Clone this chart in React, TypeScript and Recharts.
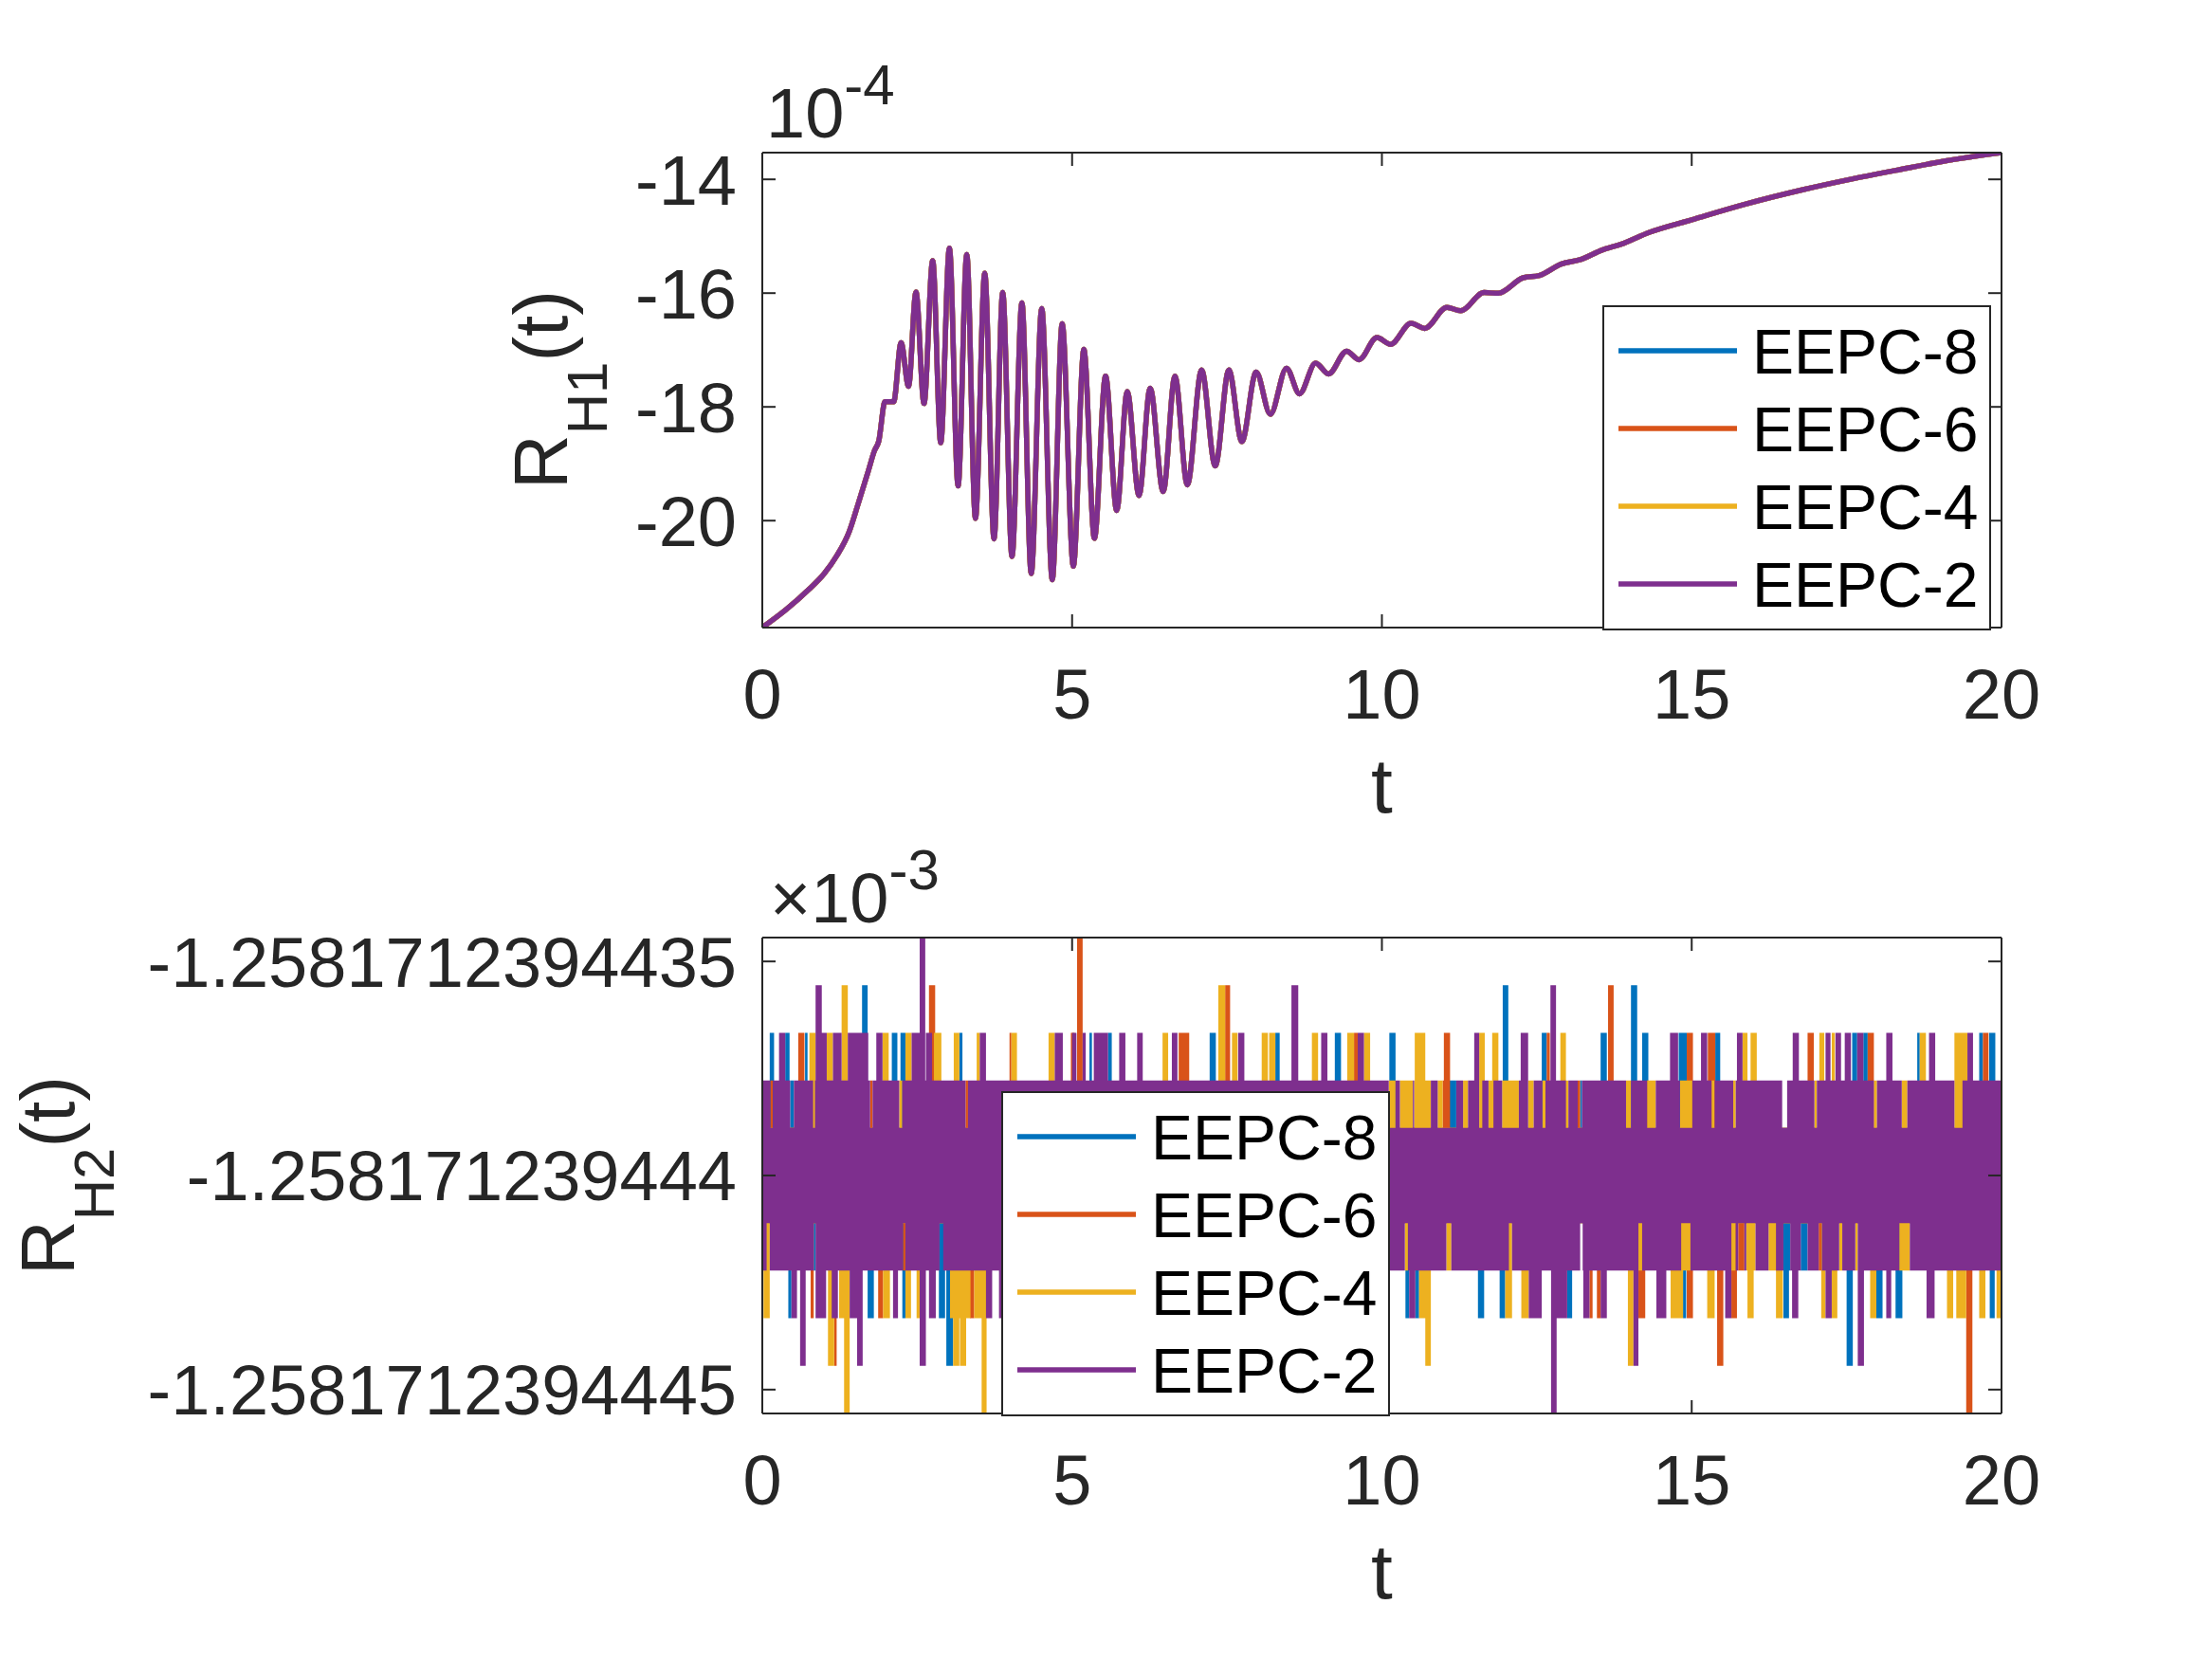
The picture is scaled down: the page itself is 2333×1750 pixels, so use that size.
import React from 'react';
import { ComposedChart, Line, Area, XAxis, YAxis } from 'recharts';

const FONT = '"Liberation Sans", Arial, Helvetica, sans-serif';
const INK = '#262626';

const seriesNames = ['EEPC-8', 'EEPC-6', 'EEPC-4', 'EEPC-2'];
const seriesColors = ['#0072BD', '#D95319', '#EDB120', '#7E2F8E'];

const tTicks = [0, 5, 10, 15, 20];

// R_H1(t), x10^-4 : the four schemes lie on top of each other
const rh1Time = [
  0, 0.4, 0.75, 1.0, 1.2, 1.4, 1.54, 1.71, 1.81, 1.88, 1.98, 2.12,
  2.24, 2.36, 2.48, 2.61, 2.75, 2.88, 3.02, 3.16, 3.3, 3.44,
  3.59, 3.74, 3.88, 4.03, 4.19, 4.34, 4.51, 4.68, 4.84, 5.02,
  5.19, 5.36, 5.54, 5.72, 5.89, 6.08, 6.26, 6.47, 6.66, 6.86,
  7.09, 7.31, 7.53, 7.74, 7.97, 8.2, 8.46, 8.67, 8.93, 9.14,
  9.43, 9.63, 9.92, 10.14,
  10.47, 10.69, 11.05, 11.27, 11.65, 11.88, 12.28, 12.54, 12.89, 13.2,
  13.56, 13.86, 14.32, 15.0, 15.85, 16.8, 17.6, 18.3, 19.07, 20.0,
];
const rh1Value = [
  -21.88, -21.55, -21.21, -20.93, -20.62, -20.2, -19.73, -19.13, -18.77, -18.6, -17.91, -17.91,
  -16.87, -17.64, -15.98, -17.94, -15.43, -18.63, -15.21, -19.39, -15.32, -19.96,
  -15.65, -20.32, -15.99, -20.63, -16.17, -20.93, -16.27, -21.04, -16.54, -20.8,
  -16.99, -20.31, -17.46, -19.82, -17.73, -19.56, -17.67, -19.49, -17.46, -19.37,
  -17.35, -19.04, -17.35, -18.61, -17.39, -18.13, -17.32, -17.77, -17.23, -17.42,
  -17.02, -17.17, -16.78, -16.9,
  -16.53, -16.62, -16.25, -16.31, -15.99, -16.0, -15.73, -15.69, -15.49, -15.41,
  -15.24, -15.14, -14.93, -14.71, -14.44, -14.18, -13.99, -13.84, -13.68, -13.53,
];
const rh1Domain = [-21.88, -13.53];
const rh1Ticks = [-20, -18, -16, -14];

// R_H2(t), x10^-3 : the values jump between round-off levels (index 0 = level -5 ... 10 = level +5)
const rh2Levels = [
  -1.2581712394445556, -1.2581712394444444, -1.2581712394443333, -1.2581712394442222,
  -1.2581712394441111, -1.258171239444, -1.2581712394438889, -1.2581712394437778,
  -1.2581712394436667, -1.2581712394435556, -1.2581712394434444,
];
const rh2Ticks = [-1.2581712394445, -1.258171239444, -1.2581712394435];
const rh2TickLabels = ['-1.2581712394445', '-1.258171239444', '-1.2581712394435'];

// [t start, t end, level] where a series leaves its usual band
const blueUp = [
  [0.12, 0.19, 3], [0.37, 0.44, 3], [0.45, 0.51, 2], [0.69, 0.73, 3], [1.61, 1.7, 4],
  [2.09, 2.18, 3], [2.23, 2.31, 3], [3.18, 3.23, 3], [5.28, 5.32, 3], [5.58, 5.64, 3],
  [7.22, 7.32, 3], [8.28, 8.35, 3], [9.24, 9.34, 3], [10.12, 10.22, 3], [11.08, 11.2, 2],
  [11.95, 12.04, 4], [12.58, 12.66, 3], [13.2, 13.23, 2], [13.53, 13.63, 3], [14.02, 14.12, 4],
  [14.2, 14.3, 3], [14.79, 14.92, 3], [14.92, 14.96, 2], [15.38, 15.46, 3], [17.59, 17.67, 3],
  [17.77, 17.84, 3], [18.64, 18.68, 3], [19.64, 19.7, 3], [19.8, 19.9, 3],
];
const blueDown = [
  [0.42, 0.47, -3], [0.83, 0.86, -2], [1.7, 1.8, -3], [2.26, 2.31, -3], [2.85, 2.95, -3],
  [2.86, 2.92, -2], [2.97, 3.08, -4], [10.38, 10.44, -3], [10.54, 10.6, -3], [11.55, 11.65, -3],
  [11.9, 11.99, -3], [12.99, 13.07, -3], [14.86, 14.91, -3], [16.48, 16.57, -3], [16.48, 16.59, -2],
  [16.76, 16.87, -2], [17.5, 17.6, -4], [17.98, 18.08, -3], [18.29, 18.4, -3], [19.81, 19.89, -3],
];
const orangeUp = [
  [0.13, 0.17, 2], [0.58, 0.68, 3], [1.74, 1.78, 2], [2.69, 2.79, 4], [3.28, 3.32, 2],
  [3.99, 4.02, 3], [4.98, 5.04, 3], [5.08, 5.17, 5], [6.72, 6.89, 3], [7.47, 7.55, 4],
  [9.55, 9.61, 3], [10.98, 11.06, 2], [11.0, 11.1, 3], [12.66, 12.71, 3], [13.16, 13.2, 2],
  [13.65, 13.74, 4], [14.28, 14.3, 2], [14.92, 15.02, 3], [15.26, 15.38, 3], [16.87, 16.97, 3],
  [17.84, 17.94, 3], [19.7, 19.79, 3],
];
const orangeDown = [
  [0.78, 0.83, -3], [1.16, 1.2, -4], [1.87, 1.95, -3], [2.27, 2.31, -2], [3.35, 3.42, -3],
  [13.35, 13.4, -3], [13.47, 13.53, -3], [14.14, 14.25, -3], [14.92, 15.02, -3], [15.41, 15.51, -4],
  [15.64, 15.73, -3], [15.75, 15.85, -2], [17.05, 17.1, -2], [19.43, 19.53, -5],
];
const yellowUp = [
  [0.76, 0.86, 3], [0.82, 0.85, 2], [1.04, 1.14, 3], [1.28, 1.38, 4], [1.94, 2.04, 3],
  [2.21, 2.26, 2], [2.31, 2.41, 3], [2.77, 2.89, 3], [3.09, 3.18, 3], [3.46, 3.51, 3],
  [4.02, 4.11, 3], [4.62, 4.72, 3], [6.46, 6.55, 3], [7.36, 7.47, 4], [7.58, 7.67, 3],
  [8.06, 8.16, 3], [8.18, 8.28, 3], [8.87, 8.97, 3], [9.44, 9.55, 3], [9.71, 9.81, 3],
  [10.11, 10.22, 2], [10.29, 10.5, 2], [10.52, 10.79, 2], [10.53, 10.7, 3], [10.9, 10.98, 2],
  [11.31, 11.39, 2], [11.57, 11.66, 3], [11.72, 11.8, 2], [11.78, 11.88, 3], [11.94, 12.21, 2],
  [12.36, 12.45, 2], [12.59, 12.64, 2], [12.88, 12.97, 3], [12.97, 13.01, 2], [13.94, 14.02, 2],
  [14.28, 14.42, 2], [14.81, 15.01, 2], [15.32, 15.37, 2], [15.67, 15.71, 2], [15.82, 15.9, 3],
  [15.95, 16.05, 3], [16.98, 17.02, 2], [17.06, 17.14, 3], [17.26, 17.31, 3], [17.94, 17.99, 2],
  [18.39, 18.48, 2], [18.68, 18.78, 3], [19.24, 19.45, 3],
];
const yellowDown = [
  [0.02, 0.12, -3], [1.06, 1.16, -4], [1.24, 1.39, -3], [1.32, 1.41, -5], [1.44, 1.48, -2],
  [1.95, 2.06, -3], [2.31, 2.4, -3], [2.49, 2.54, -3], [2.71, 2.75, -2], [3.03, 3.36, -3],
  [3.08, 3.18, -4], [3.19, 3.29, -4], [3.42, 3.61, -3], [3.54, 3.62, -5], [10.37, 10.42, -2],
  [10.6, 10.7, -3], [10.7, 10.79, -4], [11.04, 11.12, -2], [11.99, 12.1, -3], [12.25, 12.37, -3],
  [13.97, 14.06, -4], [14.14, 14.2, -2], [14.66, 14.86, -3], [14.83, 14.98, -2], [15.25, 15.37, -3],
  [15.64, 15.71, -2], [15.88, 16.03, -2], [15.9, 16.0, -3], [16.24, 16.36, -2], [16.36, 16.47, -3],
  [17.09, 17.16, -3], [17.26, 17.35, -3], [17.38, 17.43, -2], [17.64, 17.68, -2], [17.88, 17.98, -3],
  [18.35, 18.52, -2], [19.12, 19.22, -3], [19.27, 19.43, -3], [19.64, 19.74, -3], [19.92, 20.0, -3],
];
const purpleUp = [
  [0.27, 0.37, 3], [0.86, 0.96, 4], [0.96, 1.04, 3], [1.14, 1.28, 3], [1.38, 1.71, 3],
  [1.84, 1.94, 3], [2.41, 2.54, 3], [2.54, 2.63, 5], [2.64, 2.74, 3], [3.51, 3.61, 3],
  [4.72, 4.85, 3], [5.0, 5.07, 3], [5.17, 5.22, 3], [5.35, 5.58, 3], [5.76, 5.86, 3],
  [6.05, 6.14, 3], [6.61, 6.7, 3], [7.68, 7.78, 3], [8.54, 8.65, 4], [9.02, 9.12, 3],
  [9.61, 9.71, 3], [11.49, 11.57, 3], [12.24, 12.36, 3], [12.72, 12.81, 4], [14.65, 14.78, 3],
  [15.15, 15.25, 3], [15.73, 15.82, 3], [16.63, 16.73, 3], [17.16, 17.24, 3], [17.32, 17.41, 3],
  [17.47, 17.57, 3], [17.67, 17.77, 3], [18.14, 18.24, 3], [18.83, 18.93, 3], [19.45, 19.54, 3],
];
const purpleDown = [
  [0.47, 0.56, -3], [0.61, 0.7, -4], [0.86, 1.03, -3], [1.12, 1.22, -3], [1.41, 1.53, -3],
  [1.53, 1.62, -4], [2.11, 2.19, -3], [2.54, 2.64, -4], [2.69, 2.8, -3], [3.61, 3.71, -3],
  [3.82, 3.86, -3], [10.44, 10.54, -3], [12.37, 12.58, -3], [12.73, 12.82, -5], [12.82, 12.99, -3],
  [13.25, 13.35, -3], [13.53, 13.63, -3], [14.06, 14.14, -4], [14.43, 14.59, -3], [15.54, 15.64, -3],
  [16.62, 16.72, -3], [17.16, 17.26, -3], [17.68, 17.78, -4], [18.14, 18.22, -3], [18.79, 18.92, -3],
];
// places where the purple band does not reach its usual edge
const purpleTopGaps = [
  [0.13, 0.17, 1], [0.45, 0.51, 1], [0.82, 0.85, 1], [1.74, 1.78, 1], [2.21, 2.26, 1],
  [3.28, 3.32, 1], [10.11, 10.22, 1], [10.29, 10.5, 1], [10.52, 10.79, 1], [10.9, 11.2, 1],
  [11.31, 11.39, 1], [11.57, 11.62, 1], [11.72, 11.8, 1], [11.94, 12.21, 1], [12.36, 12.45, 1],
  [12.59, 12.64, 1], [12.97, 13.01, 1], [13.16, 13.23, 1], [13.94, 14.02, 1], [14.28, 14.42, 1],
  [14.81, 15.01, 1], [15.32, 15.37, 1], [15.67, 15.71, 1], [16.46, 16.54, 1], [16.98, 17.02, 1],
  [17.94, 17.99, 1], [18.39, 18.48, 1], [19.24, 19.37, 1],
];
const purpleBottomGaps = [
  [0.07, 0.12, -1], [0.83, 0.86, -1], [1.44, 1.48, -1], [2.27, 2.31, -1], [2.71, 2.75, -1],
  [2.86, 2.92, -1], [10.37, 10.42, -1], [11.04, 11.12, -1], [12.05, 12.1, -1], [13.2, 13.24, -1],
  [14.14, 14.2, -1], [14.83, 14.98, -1], [15.64, 15.71, -1], [15.75, 15.85, -1], [15.88, 16.03, -1],
  [16.24, 16.36, -1], [16.48, 16.59, -1], [16.76, 16.87, -1], [17.05, 17.1, -1], [17.38, 17.43, -1],
  [17.64, 17.68, -1], [18.35, 18.52, -1],
];

const rh2Series = [
  { key: 's0', up: blueUp, down: blueDown, topGaps: [], bottomGaps: [], top: 1, bottom: -1 },
  { key: 's1', up: orangeUp, down: orangeDown, topGaps: [], bottomGaps: [], top: 1, bottom: -1 },
  { key: 's2', up: yellowUp, down: yellowDown, topGaps: [], bottomGaps: [], top: 1, bottom: -1 },
  { key: 's3', up: purpleUp, down: purpleDown, topGaps: purpleTopGaps, bottomGaps: purpleBottomGaps, top: 2, bottom: -2 },
];

const rh1Rows = rh1Time.map((t, i) => ({ t, v: rh1Value[i] }));

function envelope(s, tm) {
  let hi = s.top;
  let lo = s.bottom;
  for (const [a, b, k] of s.topGaps) if (tm >= a && tm < b) hi = k;
  for (const [a, b, k] of s.bottomGaps) if (tm >= a && tm < b) lo = k;
  for (const [a, b, k] of s.up) if (tm >= a && tm < b) hi = Math.max(hi, k);
  for (const [a, b, k] of s.down) if (tm >= a && tm < b) lo = Math.min(lo, k);
  return [rh2Levels[lo + 5], rh2Levels[hi + 5]];
}

const cuts = Array.from(
  new Set([0, 20, ...rh2Series.flatMap((s) => [...s.up, ...s.down, ...s.topGaps, ...s.bottomGaps].flatMap((d) => [d[0], d[1]]))])
).sort((a, b) => a - b);

const rh2Rows = cuts.map((t, i) => {
  const tm = i < cuts.length - 1 ? (t + cuts[i + 1]) / 2 : t - 0.001;
  const row = { t };
  rh2Series.forEach((s) => {
    row[s.key] = envelope(s, tm);
  });
  return row;
});

const W = 2333;
const PANEL_H = 875;
const PLOT_L = 804;
const FS_TICK = 74;

const axisStyle = { stroke: INK, strokeWidth: 2 };
const noTick = () => <g />;

const xTick = (baseline) => (props) => (
  <text x={props.x} y={baseline} textAnchor="middle" fontSize={FS_TICK} fontFamily={FONT} fill={INK}>
    {props.payload.value}
  </text>
);

const yTick = (format) => (props) => (
  <text x={PLOT_L - 27} y={props.y + 0.358 * FS_TICK} textAnchor="end" fontSize={FS_TICK} fontFamily={FONT} fill={INK}>
    {format(props.payload.value)}
  </text>
);

const rh2Format = (v) => {
  let best = 0;
  rh2Ticks.forEach((tk, i) => {
    if (Math.abs(tk - v) < Math.abs(rh2Ticks[best] - v)) best = i;
  });
  return rh2TickLabels[best];
};

const yTitle = (x, y, sub) => () => (
  <text transform={`rotate(-90, ${x}, ${y})`} x={x} y={y} textAnchor="middle" fontSize={80} fontFamily={FONT} fill={INK}>
    R<tspan fontSize={60} dy={42}>{sub}</tspan>
    <tspan dy={-42}>(t)</tspan>
  </text>
);

const xTitle = (y) => () => (
  <text x={1457.5} y={y} textAnchor="middle" fontSize={82} fontFamily={FONT} fill={INK}>
    t
  </text>
);

const exponent = (x, y, prefix, power) => () => (
  <text x={x} y={y} fontSize={FS_TICK} fontFamily={FONT} fill={INK}>
    {prefix}10<tspan fontSize={60} dy={-35}>{power}</tspan>
  </text>
);

function LegendBox({ left, top }) {
  return (
    <svg style={{ position: 'absolute', left, top }} width={410} height={343}>
      <rect x={1} y={1} width={408} height={341} fill="#ffffff" stroke={INK} strokeWidth={2} />
      {seriesNames.map((name, i) => {
        const cy = 48 + i * 82;
        return (
          <g key={name}>
            <line x1={17} x2={142} y1={cy} y2={cy} stroke={seriesColors[i]} strokeWidth={5.5} />
            <text x={158} y={cy + 24} fontSize={66} fontFamily={FONT} fill="#000000">
              {name}
            </text>
          </g>
        );
      })}
    </svg>
  );
}

function TopPanel() {
  return (
    <ComposedChart width={W} height={PANEL_H} data={rh1Rows} margin={{ top: 151, right: 212, bottom: 203, left: 704 }}>
      <XAxis
        dataKey="t" type="number" domain={[0, 20]} ticks={tTicks} allowDataOverflow height={10}
        tickSize={-14} axisLine={axisStyle} tickLine={axisStyle} tick={xTick(758)}
        label={{ content: xTitle(857) }}
      />
      <XAxis
        xAxisId="top" orientation="top" dataKey="t" type="number" domain={[0, 20]} ticks={tTicks}
        allowDataOverflow height={10} tickSize={-14} axisLine={axisStyle} tickLine={axisStyle} tick={noTick}
        label={{ content: exponent(808, 145, '', '-4') }}
      />
      <YAxis
        type="number" domain={rh1Domain} ticks={rh1Ticks} allowDataOverflow width={100}
        tickSize={-14} axisLine={axisStyle} tickLine={axisStyle} tick={yTick((v) => String(v))}
        label={{ content: yTitle(598, 411, 'H1') }}
      />
      <YAxis
        yAxisId="right" orientation="right" type="number" domain={rh1Domain} ticks={rh1Ticks}
        allowDataOverflow width={10} tickSize={-14} axisLine={axisStyle} tickLine={axisStyle} tick={noTick}
      />
      {seriesNames.map((name, i) => (
        <Line
          key={name} name={name} dataKey="v" type="monotone" stroke={seriesColors[i]} strokeWidth={5.5}
          dot={false} activeDot={false} isAnimationActive={false}
        />
      ))}
    </ComposedChart>
  );
}

function BottomPanel() {
  const dom = [rh2Levels[0], rh2Levels[10]];
  return (
    <ComposedChart width={W} height={PANEL_H} data={rh2Rows} margin={{ top: 104, right: 212, bottom: 249, left: 704 }}>
      <XAxis
        dataKey="t" type="number" domain={[0, 20]} ticks={tTicks} allowDataOverflow height={10}
        tickSize={-14} axisLine={axisStyle} tickLine={axisStyle} tick={xTick(712)}
        label={{ content: xTitle(811) }}
      />
      <XAxis
        xAxisId="top" orientation="top" dataKey="t" type="number" domain={[0, 20]} ticks={tTicks}
        allowDataOverflow height={10} tickSize={-14} axisLine={axisStyle} tickLine={axisStyle} tick={noTick}
        label={{ content: exponent(812, 98, '\u00d7', '-3') }}
      />
      <YAxis
        type="number" domain={dom} ticks={rh2Ticks} allowDataOverflow width={100}
        tickSize={-14} axisLine={axisStyle} tickLine={axisStyle} tick={yTick(rh2Format)}
        label={{ content: yTitle(78, 365, 'H2') }}
      />
      <YAxis
        yAxisId="right" orientation="right" type="number" domain={dom} ticks={rh2Ticks}
        allowDataOverflow width={10} tickSize={-14} axisLine={axisStyle} tickLine={axisStyle} tick={noTick}
      />
      {rh2Series.map((s, i) => (
        <Area
          key={s.key} name={seriesNames[i]} dataKey={s.key} type="stepAfter" fill={seriesColors[i]}
          fillOpacity={1} stroke="none" dot={false} activeDot={false} isAnimationActive={false}
        />
      ))}
    </ComposedChart>
  );
}

export default function App() {
  return (
    <div style={{ position: 'absolute', left: 0, top: 0, width: W, height: 1750, background: '#ffffff' }}>
      <div style={{ position: 'absolute', left: 0, top: 0 }}>
        <TopPanel />
      </div>
      <div style={{ position: 'absolute', left: 0, top: PANEL_H }}>
        <BottomPanel />
      </div>
      <LegendBox left={1690} top={322} />
      <LegendBox left={1056} top={1151} />
    </div>
  );
}
